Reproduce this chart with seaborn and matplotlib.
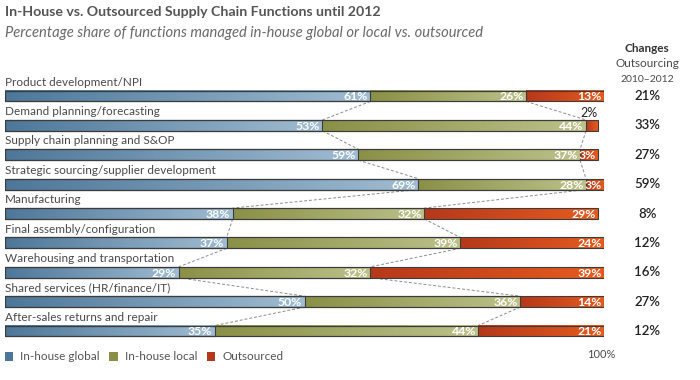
import numpy as np
import pandas as pd
import seaborn as sns
from matplotlib import pyplot as plt
from matplotlib import colors as mcolors
from matplotlib.patches import Patch

# data
functions = [
    "Product development/NPI",
    "Demand planning/forecasting",
    "Supply chain planning and S&OP",
    "Strategic sourcing/supplier development",
    "Manufacturing",
    "Final assembly/configuration",
    "Warehousing and transportation",
    "Shared services (HR/finance/IT)",
    "After-sales returns and repair",
]
inhouse_global = [61, 53, 59, 69, 38, 37, 29, 50, 35]
inhouse_local = [26, 44, 37, 28, 32, 39, 32, 36, 44]
outsourced = [13, 2, 3, 3, 29, 24, 39, 14, 21]
changes = [21, 33, 27, 59, 8, 12, 16, 27, 12]

series_names = ["In-house global", "In-house local", "Outsourced"]

BLUE = ("#4d7799", "#a0bcd2")
GREEN = ("#8a9046", "#bcc28a")
ORANGE = ("#b5381a", "#e65c1f")
EDGE = "#3c3c3c"
TXT = "#4a4a4a"

sns.set_theme(style="white")
plt.rcParams['font.family'] = ['Lato', 'DejaVu Sans']

frame = pd.DataFrame({
    "function": functions,
    "global": inhouse_global,
    "local": inhouse_local,
    "out": outsourced,
})
frame["mid"] = frame["global"] + frame["local"]
frame["total"] = frame["mid"] + frame["out"]

fig = plt.figure(figsize=(7, 3.8), dpi=100)
ax = fig.add_axes([5 / 700, 0, 599 / 700, 1])

bar_h = 0.37

# layered bars: total (orange) under in-house (green) under global (blue)
for col, cols in [("total", ORANGE), ("mid", GREEN), ("global", BLUE)]:
    sns.barplot(data=frame, x=col, y="function", color=cols[1], width=bar_h,
                saturation=1, errorbar=None, edgecolor=EDGE, linewidth=0.8, ax=ax)

# faces become transparent, gradients go underneath
for p in ax.patches:
    p.set_facecolor("none")
    p.set_zorder(2)


def gradient(c0, c1):
    a = np.array(mcolors.to_rgb(c0))
    b = np.array(mcolors.to_rgb(c1))
    t = np.linspace(0, 1, 256)[:, None]
    return (a + (b - a) * t)[None, :, :]


for i, row in frame.iterrows():
    segs = [(0, row["global"], BLUE, row["global"]),
            (row["global"], row["mid"], GREEN, row["local"]),
            (row["mid"], row["total"], ORANGE, row["out"])]
    for x0, x1, cols, val in segs:
        ax.imshow(gradient(*cols), extent=(x0, x1, i + bar_h / 2, i - bar_h / 2),
                  aspect="auto", interpolation="bilinear", zorder=1.5)
        if val >= 3:
            ax.text(x1 - 0.4, i + 0.03, f"{val}%", ha="right", va="center",
                    color="white", fontsize=8.8, fontweight="bold", zorder=3)
        else:
            ax.text(x1, i - bar_h / 2 - 0.04, f"{val}%", ha="right", va="bottom",
                    color="#222222", fontsize=9, zorder=3)
    ax.text(0, i - 0.47, row["function"], ha="left", va="center",
            color=TXT, fontsize=8.5)
    ax.text(107.2, i, f"{changes[i]}%", ha="center", va="center",
            color="#222222", fontsize=9.5, fontweight="semibold")

# dashed connectors between segment boundaries
for key in ["global", "mid"]:
    b = frame[key].values
    for i in range(len(b) - 1):
        ax.plot([b[i], b[i + 1]], [i + bar_h / 2, i + 1 - bar_h / 2],
                ls=(0, (3, 2)), color="#8c8c8c", lw=0.7, zorder=1)

ax.plot([100, 100], [bar_h / 2, 8.62], ls=(0, (3, 2)), color="#8c8c8c", lw=0.7, zorder=1)
ax.text(99.5, 8.8, "100%", ha="center", va="center", color=TXT, fontsize=8)

# titles
ax.text(0, -2.86, "In-House vs. Outsourced Supply Chain Functions until 2012",
        ha="left", va="center", color="#555555", fontsize=10.2, fontweight="bold")
ax.text(0, -2.14, "Percentage share of functions managed in-house global or local vs. outsourced",
        ha="left", va="center", color="#6a6a6a", fontsize=10.6, style="italic")

# changes column header
ax.text(107.2, -1.63, "Changes", ha="center", va="center", color="#333333",
        fontsize=8.5, fontweight="bold")
ax.text(107.2, -1.09, "Outsourcing", ha="center", va="center", color=TXT, fontsize=8.5)
ax.text(107.2, -0.55, "2010\u20132012", ha="center", va="center", color=TXT, fontsize=7.5)

handles = [Patch(facecolor=c[0], edgecolor="none", label=n)
           for c, n in zip([BLUE, GREEN, ORANGE], series_names)]
ax.legend(handles=handles, loc="center left", bbox_to_anchor=(0, (380 - 357) / 380),
          ncol=3, frameon=False, fontsize=8.5, labelcolor="#555555",
          handlelength=0.7, handleheight=0.7, handletextpad=0.6,
          columnspacing=0.8, borderaxespad=0, borderpad=0)

ax.set_xlim(0, 100)
ax.set_ylim(9.668, -3.268)
ax.set_axis_off()

plt.savefig("out.png", dpi=100)
